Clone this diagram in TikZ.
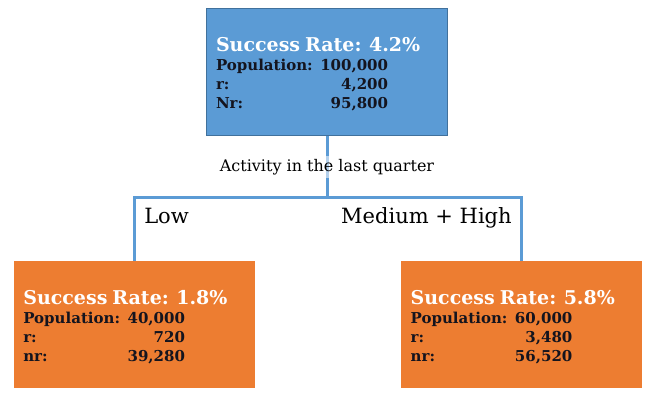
\documentclass[tikz,border=0pt]{standalone}
\usepackage{fontspec}
\setmainfont{DejaVu Serif}
\usetikzlibrary{positioning, calc}
\definecolor{boxblue}{RGB}{91, 155, 213}
\definecolor{boxblueedge}{RGB}{65, 113, 156}
\definecolor{boxorange}{RGB}{237, 125, 49}
\definecolor{linkblue}{RGB}{91, 155, 213}
\definecolor{bodytext}{RGB}{20, 20, 30}
\newcommand{\ratetitle}[1]{\multicolumn{2}{@{}l@{}}{\rule{0pt}{22pt}\rlap{\fontsize{19}{19}\selectfont\bfseries\color{white}#1}}}

\begin{document}
\begin{tikzpicture}[
    rate/.style={rectangle, minimum width=241pt, minimum height=127pt, text width=222pt, inner xsep=9.5pt, align=left, text=bodytext, font=\fontsize{15}{19}\selectfont\bfseries},
    topbox/.style={rate, fill=boxblue, draw=boxblueedge, line width=0.8pt},
    leafbox/.style={rate, fill=boxorange},
    link/.style={line width=3pt, linkblue},
    actlabel/.style={fill=white, fill opacity=0.55, text opacity=1, text=black, font=\fontsize{16}{18}\selectfont},
    branch/.style={inner sep=8.5pt, text=black, font=\fontsize{21}{24}\selectfont}
]
\useasboundingbox (0,0) rectangle (650pt,-398pt);

\node (TOP) [topbox] at (327pt,-72pt) {\begin{tabular}{@{}l@{ }r@{}}\ratetitle{Success Rate: 4.2\%}\\Population: & 100,000\\r: & 4,200\\Nr: & 95,800\end{tabular}};
\node (LOW)  [leafbox, below left=125pt and 72pt of TOP.south, anchor=north east] {\begin{tabular}{@{}l@{ }r@{}}\ratetitle{Success Rate: 1.8\%}\\Population: & 40,000\\r: & 720\\nr: & 39,280\end{tabular}};
\node (HIGH) [leafbox, below right=125pt and 74pt of TOP.south, anchor=north west] {\begin{tabular}{@{}l@{ }r@{}}\ratetitle{Success Rate: 5.8\%}\\Population: & 60,000\\r: & 3,480\\nr: & 56,520\end{tabular}};
\coordinate (split) at ($(TOP.south)+(0,-62pt)$);

\draw [link] (split) -| node[pos=0.5, below right, branch] {Low} (LOW.north);
\draw [link] (split) -| node[pos=0.5, below left, branch] {Medium + High} (HIGH.north);
\draw [link] (TOP.south) -- node[actlabel] {Activity in the last quarter} (split);

\end{tikzpicture}
\end{document}
